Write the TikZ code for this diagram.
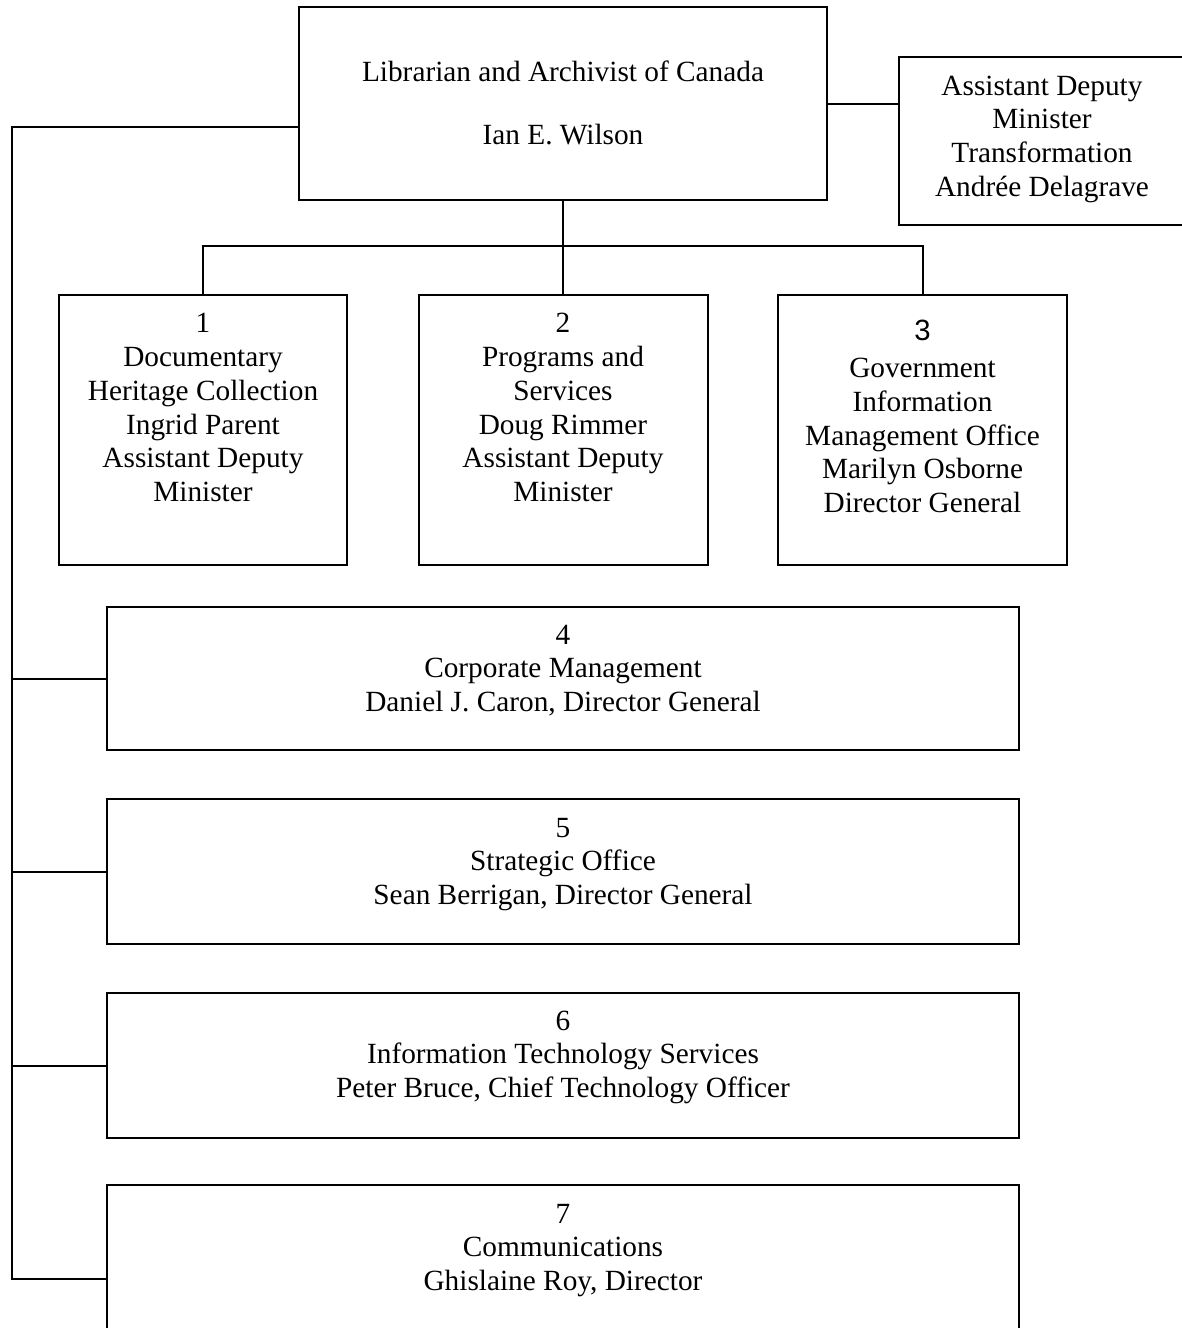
\documentclass[tikz,border=0pt]{standalone}
\usepackage{fontspec}
\setmainfont{Liberation Serif}
\newfontfamily\arialfont{Liberation Sans}
\begin{document}
\begin{tikzpicture}[x=1pt,y=-1pt,
  line width=2pt,
  box/.style={draw=black, line width=2pt, rectangle, inner sep=0pt, fill=none},
  txt/.style={align=center, inner sep=0pt, font=\fontsize{29.3}{33.7}\selectfont}
]
\useasboundingbox (0,0) rectangle (1182,1328);
\clip (0,0) rectangle (1182,1328);
\fill[white] (0,0) rectangle (1182,1328);
% boxes
\node[box, minimum width=528pt, minimum height=193pt] (top) at (563,103.5) {};
\node[box, minimum width=286pt, minimum height=168pt] (rb) at (1042,141) {};
\node[box, minimum width=288pt, minimum height=270pt] (b1) at (203,430) {};
\node[box, minimum width=289pt, minimum height=270pt] (b2) at (563,430) {};
\node[box, minimum width=289pt, minimum height=270pt] (b3) at (922.5,430) {};
\node[box, minimum width=912pt, minimum height=143pt] (b4) at (563,678.5) {};
\node[box, minimum width=912pt, minimum height=145pt] (b5) at (563,871.5) {};
\node[box, minimum width=912pt, minimum height=145pt] (b6) at (563,1065.5) {};
\node[box, minimum width=912pt, minimum height=188pt] (b7) at (563,1279) {};
% texts
\node[txt] (ttop) at (563,106) {\strut Librarian and Archivist of Canada\\[29.7pt] Ian E. Wilson\strut};
\node[txt] (trb) at (1042,139) {\strut Assistant Deputy\\Minister\\Transformation\\Andrée Delagrave\strut};
\node[txt] (t1) at (203,410.5) {\strut 1\\Documentary\\Heritage Collection\\Ingrid Parent\\Assistant Deputy\\Minister\strut};
\node[txt] (t2) at (563,410.5) {\strut 2\\Programs and\\Services\\Doug Rimmer\\Assistant Deputy\\Minister\strut};
\node[txt] (t3) at (922.5,420) {\strut{\arialfont 3}\\[3pt]Government\\Information\\Management Office\\Marilyn Osborne\\Director General\strut};
\node[txt] (t4) at (563,671) {\strut 4\\Corporate Management\\Daniel J. Caron, Director General\strut};
\node[txt] (t5) at (563,864) {\strut 5\\Strategic Office\\Sean Berrigan, Director General\strut};
\node[txt] (t6) at (563,1057) {\strut 6\\Information Technology Services\\Peter Bruce, Chief Technology Officer\strut};
\node[txt] (t7) at (563,1250) {\strut 7\\Communications\\Ghislaine Roy, Director\strut};
% connectors
\draw (top.east) -- (top.east -| rb.west);
\coordinate (bus) at (563,246);
\draw (top.south) -- (b2.north);
\draw (b1.north) |- (bus) -| (b3.north);
\coordinate (s0) at (12,127);
\draw ([yshift=-23.5pt]top.west) -- (s0) -- (s0 |- b7.west) -- (b7.west);
\draw (s0 |- b4.west) -- (b4.west);
\draw (s0 |- b5.west) -- (b5.west);
\draw (s0 |- b6.west) -- (b6.west);
\end{tikzpicture}
\end{document}
